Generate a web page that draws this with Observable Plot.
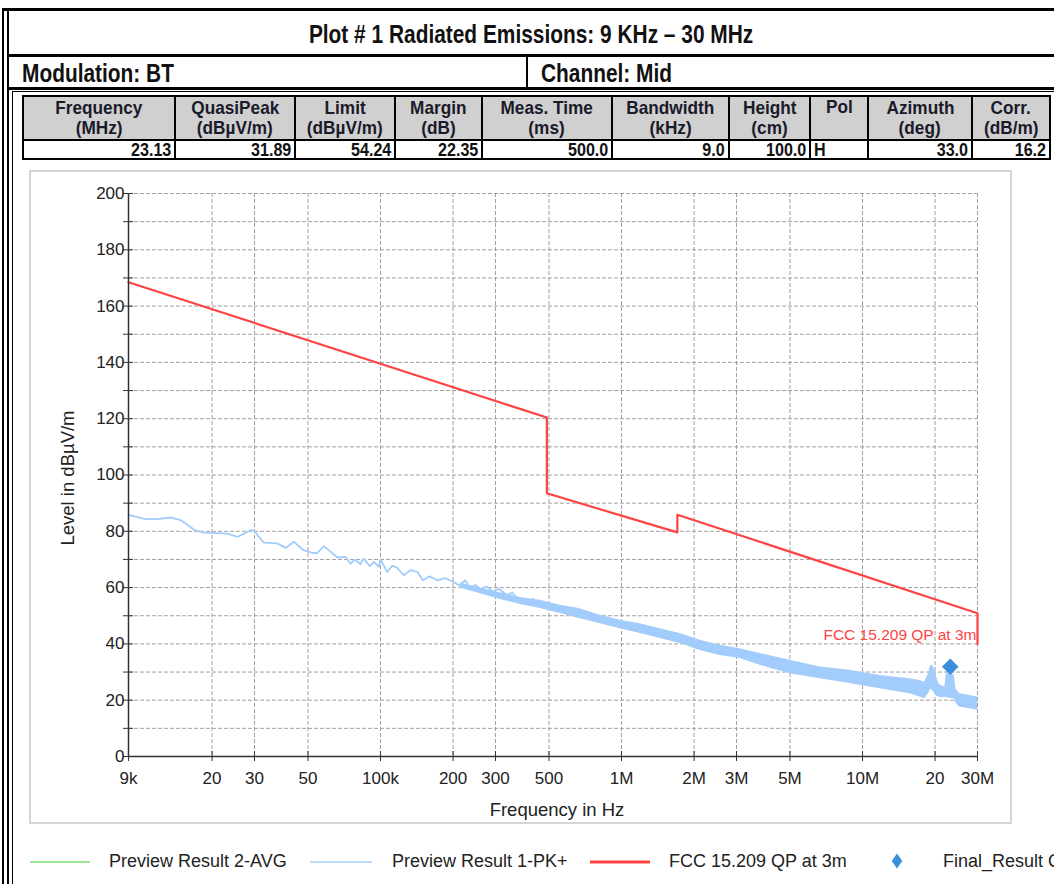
<!DOCTYPE html>
<html>
<head>
<meta charset="utf-8">
<script src="https://cdn.jsdelivr.net/npm/d3@7"></script>
<script src="https://cdn.jsdelivr.net/npm/@observablehq/plot@0.6"></script>
<style>
  html, body { margin: 0; padding: 0; background: #fff; }
  body { width: 1054px; height: 884px; position: relative; overflow: hidden; font-family: "Liberation Sans", Arial, sans-serif; color: #111; }
  .abs { position: absolute; }
  .bold { font-weight: bold; }
  .sq { display: inline-block; white-space: nowrap; }
  .hl { position: absolute; background: #000; }
  table.params { position: absolute; left: 22px; top: 95px; border-collapse: collapse; table-layout: fixed; font-weight: bold; }
  table.params td { border: 2px solid #000; padding: 0 3px; white-space: nowrap; overflow: hidden; }
  table.params tr.h td { background: #d0d0d0; text-align: center; font-size: 18.5px; line-height: 20px; height: 42px; color: #1a1a2a; }
  table.params tr.v td { background: #fff; text-align: right; font-size: 18.5px; line-height: 17px; height: 17px; }
  #panel { position: absolute; left: 29px; top: 170px; width: 979px; height: 650px; border: 2px solid #d4d4d4; }
  .leg { position: absolute; top: 851px; font-size: 18px; color: #222; white-space: nowrap; }
</style>
</head>
<body>
<script>
// ---------- data ----------
const titleText = "Plot # 1 Radiated Emissions: 9 KHz \u2013 30 MHz";
const modulationText = "Modulation: BT";
const channelText = "Channel: Mid";

const tableHeads = ["Frequency", "QuasiPeak", "Limit", "Margin", "Meas. Time", "Bandwidth", "Height", "Pol", "Azimuth", "Corr."];
const tableUnits = ["(MHz)", "(dB\u00b5V/m)", "(dB\u00b5V/m)", "(dB)", "(ms)", "(kHz)", "(cm)", "", "(deg)", "(dB/m)"];
const tableValues = ["23.13", "31.89", "54.24", "22.35", "500.0", "9.0", "100.0", "H", "33.0", "16.2"];

// x ticks (Hz) and their labels
const xTickValues = [9e3, 2e4, 3e4, 5e4, 1e5, 2e5, 3e5, 5e5, 1e6, 2e6, 3e6, 5e6, 1e7, 2e7, 3e7];
const xTickLabels = ["9k", "20", "30", "50", "100k", "200", "300", "500", "1M", "2M", "3M", "5M", "10M", "20", "30M"];
const yMajorTicks = [0, 20, 40, 60, 80, 100, 120, 140, 160, 180, 200];
const yMinorTicks = [0, 10, 20, 30, 40, 50, 60, 70, 80, 90, 100, 110, 120, 130, 140, 150, 160, 170, 180, 190, 200];

// FCC 15.209 QP at 3m limit line
const limitFreq  = [9e3, 490e3, 490e3, 1.705e6, 1.705e6, 30e6, 30e6];
const limitLevel = [168.5, 120.4, 93.5, 79.6, 85.9, 50.9, 40.0];

// Preview Result 1-PK+ (low-frequency trace)
const pkFreq = [9000, 10600, 11900, 13500, 14800, 17100, 18500, 23200, 25500, 28900, 29800, 32800, 37300, 40400, 43700, 47800, 52100, 54700, 58200, 61000, 66200, 71600, 75100, 78000, 80000, 82600, 84500, 86700, 90300, 93800, 98400, 100000, 106600, 112000, 117000, 125000, 133000, 142000, 150000, 160000, 172000, 185000, 201000, 212000, 225000, 236000, 248000, 260000, 275000, 293000, 310000, 334000, 352000, 370000, 405000, 430000, 453000];
const pkLevel = [85.8, 84.3, 84.3, 84.9, 84.0, 80.2, 79.5, 79.2, 78.0, 80.4, 80.2, 76.0, 75.7, 74.1, 76.3, 73.3, 72.3, 72.3, 74.7, 73.3, 70.7, 70.9, 68.5, 69.8, 69.4, 68.3, 70.2, 69.4, 67.6, 69.1, 67.4, 70.0, 65.6, 67.8, 67.1, 64.4, 66.2, 65.6, 62.6, 64.0, 62.6, 63.4, 62.0, 60.8, 62.6, 59.7, 61.0, 59.2, 60.4, 58.5, 59.6, 57.3, 58.2, 56.2, 54.9, 56.0, 54.3];

// Preview Result 1-PK+ dense part: lower / upper envelope
const bandFreq = [215e3, 260e3, 314e3, 380e3, 460e3, 557e3, 661e3, 816e3, 987e3, 1.195e6, 1.446e6, 1.75e6, 2.118e6, 2.563e6, 3.102e6, 3.755e6, 5.0e6, 6.66e6, 8.86e6, 11.8e6, 15.7e6, 17.3e6, 18.1e6, 18.7e6, 19.2e6, 19.7e6, 20.3e6, 20.9e6, 21.95e6, 22.3e6, 24.0e6, 24.4e6, 25.3e6, 27.9e6, 30e6];
const bandLow  = [59.8, 57.8, 55.8, 54.0, 52.6, 50.8, 49.1, 47.2, 45.4, 43.7, 41.9, 40.1, 37.7, 35.9, 34.8, 32.4, 29.4, 27.6, 25.9, 24.1, 22.3, 21.1, 20.5, 22.0, 24.0, 23.0, 21.5, 21.0, 21.0, 21.0, 20.5, 19.0, 17.5, 17.0, 16.4];
const bandHigh = [61.6, 59.8, 58.2, 56.5, 55.5, 53.7, 52.7, 50.2, 48.4, 47.2, 45.4, 43.7, 41.3, 39.5, 38.3, 36.6, 34.2, 31.8, 30.6, 28.8, 27.6, 27.0, 26.4, 29.0, 32.5, 32.0, 28.0, 25.5, 24.7, 29.5, 29.0, 24.0, 22.3, 21.7, 21.1];

// Final result
const finalFreq = [23.13e6];
const finalLevel = [31.89];

const legendItems = ["Preview Result 2-AVG", "Preview Result 1-PK+", "FCC 15.209 QP at 3m", "Final_Result QPK"];

// ---------- colours ----------
const cRed = "#ff4242", cPk = "#a2ccfb", cAvg = "#9be89b", cFinal = "#3b8fd9", cGrid = "#a0a0a0", cAxis = "#333";

// ---------- header ----------
function el(tag, cls, style, text) {
  const e = document.createElement(tag);
  if (cls) e.className = cls;
  if (style) e.setAttribute("style", style);
  if (text != null) e.textContent = text;
  document.body.appendChild(e);
  return e;
}
function squeeze(parent, text, s, origin) {
  const sp = document.createElement("span");
  sp.className = "sq";
  sp.textContent = text;
  sp.style.transform = "scaleX(" + s + ")";
  sp.style.transformOrigin = origin;
  parent.appendChild(sp);
  return sp;
}
// frame lines
el("div", "hl", "left:2px;top:8px;width:2px;height:876px;");
el("div", "hl", "left:7px;top:8px;width:2px;height:876px;");
el("div", "hl", "left:2px;top:8px;width:1052px;height:3px;");
el("div", "hl", "left:7px;top:54px;width:1047px;height:3px;");
el("div", "hl", "left:7px;top:87px;width:1047px;height:3px;");
el("div", "hl", "left:526px;top:57px;width:2px;height:30px;");
el("div", "hl", "left:12px;top:91px;width:1042px;height:1px;");
el("div", "hl", "left:12px;top:91px;width:1px;height:793px;");

const t1 = el("div", "abs bold", "left:9px;width:1045px;top:19px;text-align:center;font-size:25px;line-height:30px;");
squeeze(t1, titleText, 0.835, "center");
const t2 = el("div", "abs bold", "left:22px;top:58px;font-size:25px;line-height:30px;");
squeeze(t2, modulationText, 0.835, "left");
const t3 = el("div", "abs bold", "left:541px;top:58px;font-size:25px;line-height:30px;");
squeeze(t3, channelText, 0.835, "left");

const colW = [152, 120, 100, 87, 130, 117, 81, 58, 104, 78];
const tbl = el("table", "params", null);
const cg = document.createElement("colgroup");
colW.forEach(w => { const c = document.createElement("col"); c.style.width = w + "px"; cg.appendChild(c); });
tbl.appendChild(cg);
tbl.style.width = d3.sum(colW) + "px";
const trH = document.createElement("tr"); trH.className = "h";
tableHeads.forEach((h, i) => {
  const td = document.createElement("td");
  squeeze(td, h, 0.93, "center");
  td.appendChild(document.createElement("br"));
  squeeze(td, tableUnits[i] || "\u00a0", 0.93, "center");
  if (h === "Pol") td.style.verticalAlign = "top";
  trH.appendChild(td);
});
tbl.appendChild(trH);
const trV = document.createElement("tr"); trV.className = "v";
tableValues.forEach(v => {
  const td = document.createElement("td");
  const left = v === "H";
  squeeze(td, v, 0.87, left ? "left" : "right");
  if (left) td.style.textAlign = "left";
  trV.appendChild(td);
});
tbl.appendChild(trV);

el("div", null, null).id = "panel";

// ---------- chart ----------
const limit = limitFreq.map((f, i) => ({f, v: limitLevel[i]}));
const pk = pkFreq.map((f, i) => ({f, v: pkLevel[i]}));
const band = bandFreq.map((f, i) => ({f, lo: bandLow[i], hi: bandHigh[i]}));
const finals = finalFreq.map((f, i) => ({f, v: finalLevel[i]}));

const chart = Plot.plot({
  width: 983,
  height: 654,
  marginLeft: 99,
  marginRight: 35,
  marginTop: 23,
  marginBottom: 68,
  style: {fontFamily: "'Liberation Sans', Arial, sans-serif", fontSize: "17px", color: "#222", background: "transparent", overflow: "visible"},
  x: {type: "log", domain: [9e3, 30e6]},
  y: {domain: [0, 200]},
  marks: [
    Plot.gridY(yMinorTicks, {stroke: cGrid, strokeOpacity: 1, strokeDasharray: "4,2", strokeWidth: 1}),
    Plot.gridX(xTickValues, {stroke: cGrid, strokeOpacity: 1, strokeDasharray: "4,2", strokeWidth: 1}),
    Plot.areaY(band, {x: "f", y1: "lo", y2: "hi", fill: cPk, curve: "linear"}),
    Plot.line(pk, {x: "f", y: "v", stroke: cPk, strokeWidth: 1.8}),
    Plot.line(limit, {x: "f", y: "v", stroke: cRed, strokeWidth: 2.2}),
    Plot.ruleX([9e3], {stroke: cAxis, strokeWidth: 1.5}),
    Plot.ruleY([0], {stroke: cAxis, strokeWidth: 1.5}),
    Plot.axisY(yMinorTicks, {tickSize: 10, dx: 5, tickFormat: () => "", label: null, stroke: cAxis}),
    Plot.axisY(yMajorTicks, {tickSize: 0, tickPadding: 4, label: null, fill: "#222"}),
    Plot.axisX(xTickValues, {tickSize: 10, dy: -5, tickFormat: () => "", label: null, stroke: cAxis}),
    Plot.text(xTickValues, {x: d => d, text: (d, i) => xTickLabels[i], frameAnchor: "bottom", lineAnchor: "top", dy: 15, fontSize: 17, fill: "#222"}),
    Plot.text(["Frequency in Hz"], {text: d => d, frameAnchor: "bottom", textAnchor: "middle", dx: 4, dy: 59, fontSize: 18.5, fill: "#222"}),
    Plot.text(["Level in dB\u00b5V/m"], {text: d => d, frameAnchor: "left", textAnchor: "middle", dx: -60, dy: 3, rotate: -90, fontSize: 18.5, fill: "#222"}),
    Plot.text(["FCC 15.209 QP at 3m"], {text: d => d, x: 30e6, y: 43, dx: -1, textAnchor: "end", fontSize: 15.5, fill: cRed}),
    Plot.dot(finals, {x: "f", y: "v", symbol: "diamond2", r: 7.5, fill: cFinal, stroke: "none"})
  ]
});
chart.style.position = "absolute";
chart.style.left = "29px";
chart.style.top = "170px";
document.body.appendChild(chart);

// ---------- legend ----------
const legY = 862;
const legSvg = d3.select(document.body).append("svg")
  .attr("width", 1054).attr("height", 30)
  .style("position", "absolute").style("left", "0px").style("top", (legY - 15) + "px");
legSvg.append("line").attr("x1", 30).attr("x2", 90).attr("y1", 15).attr("y2", 15).attr("stroke", cAvg).attr("stroke-width", 2);
legSvg.append("line").attr("x1", 310).attr("x2", 372).attr("y1", 15).attr("y2", 15).attr("stroke", "#bcd9f7").attr("stroke-width", 2);
legSvg.append("line").attr("x1", 590).attr("x2", 650).attr("y1", 15).attr("y2", 15).attr("stroke", cRed).attr("stroke-width", 3);
legSvg.append("path").attr("d", d3.symbol(d3.symbolDiamond2, 110)()).attr("transform", "translate(897,14) scale(0.8,1.15)").attr("fill", cFinal);
const legX = [109, 392, 669, 943];
legendItems.forEach((t, i) => el("div", "leg", "left:" + legX[i] + "px;", t));
</script>
</body>
</html>
